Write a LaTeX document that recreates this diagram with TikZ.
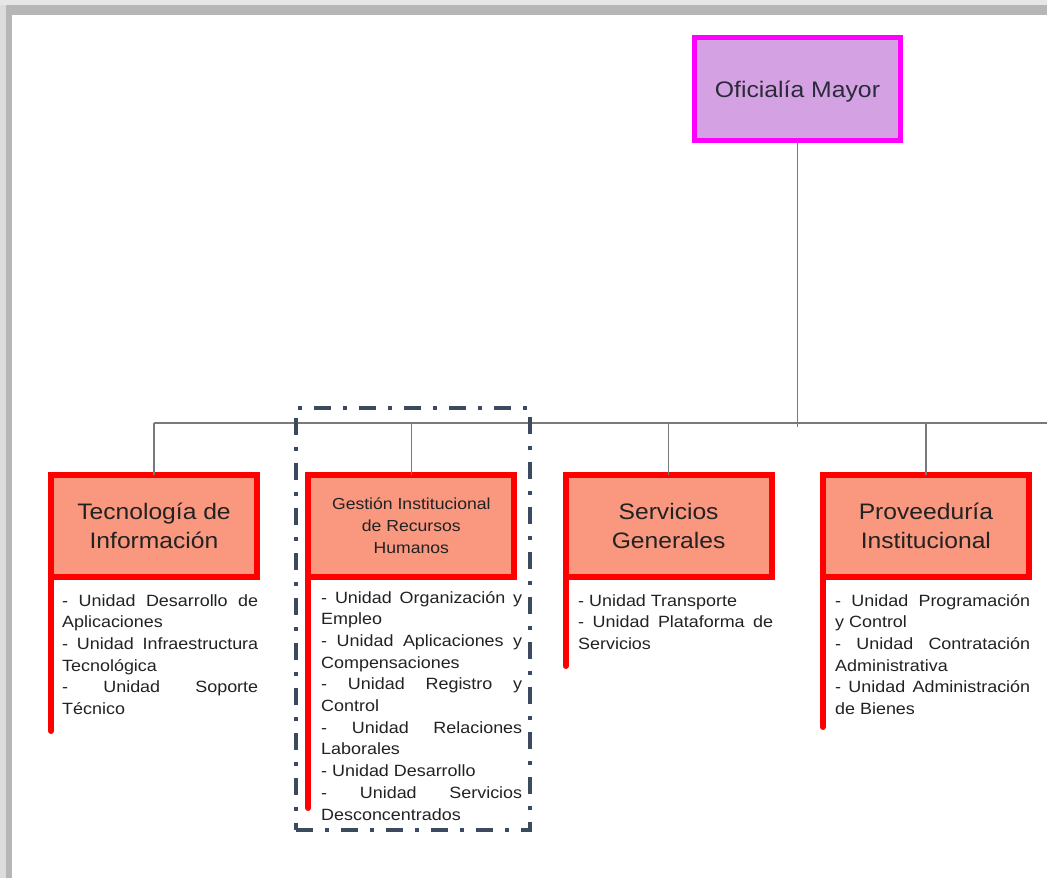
\documentclass[tikz,border=0pt]{standalone}
\usepackage{fontspec}
\setmainfont[FakeStretch=1.1]{Liberation Sans}
\definecolor{boxred}{HTML}{FF0000}
\definecolor{boxfill}{HTML}{F9977F}
\definecolor{omline}{HTML}{FF00FF}
\definecolor{omfill}{HTML}{D4A2E2}
\definecolor{linegray}{HTML}{7A7A7A}
\definecolor{grpcol}{HTML}{3B4A5F}
\definecolor{txt}{HTML}{222222}
\definecolor{omtxt}{HTML}{2A2A3A}
\definecolor{frameA}{HTML}{DCDCDC}
\definecolor{frameB}{HTML}{B6B6B6}
\definecolor{frameC}{HTML}{E6E6E6}
\newcommand\mylistfont{\fontsize{16.3}{21.7}\selectfont\hyphenpenalty10000\exhyphenpenalty10000\tolerance10000\hbadness10000\relax}
\newcommand\jreset{\leftskip0pt\rightskip0pt\parfillskip0pt plus1fil\spaceskip0pt\xspaceskip0pt\parindent0pt\relax}
\begin{document}
\begin{tikzpicture}[x=1pt,y=-1pt,
  conn/.style={draw=linegray, line width=1.5pt},
  unitbox/.style={draw=boxred, fill=boxfill, line width=6pt, minimum width=206pt,
    minimum height=102pt, inner sep=0pt, outer sep=0pt, align=center, text=txt},
  bigtitle/.style={font=\fontsize{22.4}{29}\selectfont},
  smalltitle/.style={font=\fontsize{16}{22}\selectfont},
  sideline/.style={draw=boxred, line width=6pt, line cap=round},
  listtxt/.style={anchor=base west, inner sep=0pt, text=txt, font=\mylistfont, align=justify},
  grpbox/.style={draw=grpcol, line width=3.2pt, dash pattern=on 17pt off 12pt on 4pt off 12pt,
    minimum width=234pt, minimum height=422pt, inner sep=0pt},
  topbox/.style={draw=omline, fill=omfill, line width=5pt, minimum width=206pt,
    minimum height=103pt, inner sep=0pt, outer sep=0pt, text=omtxt,
    text height=20pt, text depth=4pt,
    font=\fontsize{22.5}{28}\selectfont}
]
\useasboundingbox (0,0) rectangle (1047,878);
% frame shadow
\fill[white] (0,0) rectangle (1047,878);
\fill[frameA] (0,0) rectangle (6,878);
\fill[frameB] (6,15) rectangle (12,878);
\fill[frameC] (0,0) rectangle (1047,5);
\fill[frameB] (6,5) rectangle (1047,15);

% top box
\node[topbox] (om) at (797.5,89) {Oficialía Mayor};

% coordinates for connectors
\coordinate (hl) at (154,423);
\coordinate (hr) at (1047,423);
\coordinate (omdown) at (797.5,427);

% unit boxes
\node[unitbox, bigtitle] (t1) at (154,526) {Tecnología de\\Información};
\node[unitbox, smalltitle] (t2) at (411.3,526) {Gestión Institucional\\de Recursos\\Humanos};
\node[unitbox, bigtitle] (t3) at (668.6,526) {Servicios\\Generales};
\node[unitbox, bigtitle] (t4) at (925.9,526) {Proveeduría\\Institucional};

% connectors
\draw[conn] (om.south) -- (omdown);
\draw[conn] (hl) -- (hr);
\foreach \n in {t1,t2,t3,t4} {
  \draw[conn] (\n.north) -- (\n.north |- hl);
}

% side lines
\coordinate (e1) at (51,731);
\coordinate (e2) at (308.3,808);
\coordinate (e3) at (565.6,666);
\coordinate (e4) at (822.9,727);
\draw[sideline] (t1.south west) -- (e1);
\draw[sideline] (t2.south west) -- (e2);
\draw[sideline] (t3.south west) -- (e3);
\draw[sideline] (t4.south west) -- (e4);

% lists
\node[listtxt, text width=196pt] (l1) at (62,606) {\jreset
- Unidad Desarrollo de\linebreak Aplicaciones\par
- Unidad Infraestructura\linebreak Tecnológica\par
- Unidad Soporte\linebreak Técnico\par};
\node[listtxt, text width=201pt] (l2) at (321,603) {\jreset
- Unidad Organización y\linebreak Empleo\par
- Unidad Aplicaciones y\linebreak Compensaciones\par
- Unidad Registro y\linebreak Control\par
- Unidad Relaciones\linebreak Laborales\par
- Unidad Desarrollo\par
- Unidad Servicios\linebreak Desconcentrados\par};
\node[listtxt, text width=195pt] (l3) at (578,606) {\jreset
- Unidad Transporte\par
- Unidad Plataforma de\linebreak Servicios\par};
\node[listtxt, text width=195pt] (l4) at (835,606) {\jreset
- Unidad Programación\linebreak y Control\par
- Unidad Contratación\linebreak Administrativa\par
- Unidad Administración\linebreak de Bienes\par};

% dash-dot group
\node[grpbox] (grp) at (413,619) {};
\end{tikzpicture}
\end{document}
